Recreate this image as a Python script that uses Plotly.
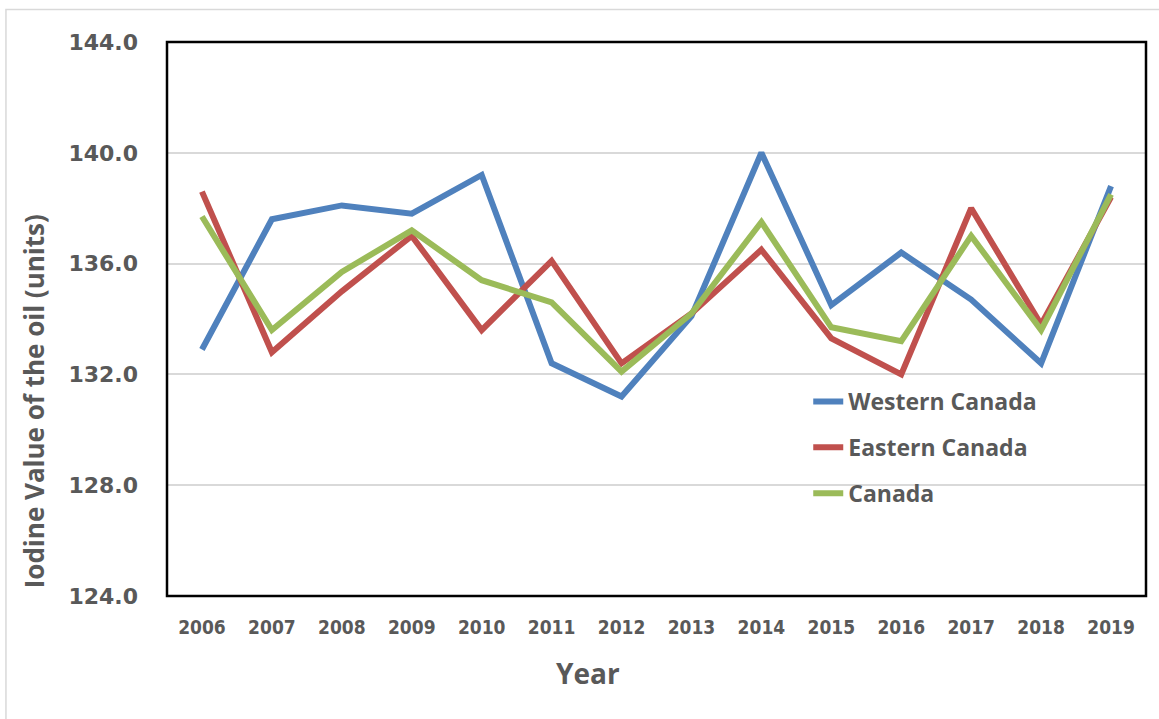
import plotly.graph_objects as go

years = ["2006", "2007", "2008", "2009", "2010", "2011", "2012",
         "2013", "2014", "2015", "2016", "2017", "2018", "2019"]
western = [132.9, 137.6, 138.1, 137.8, 139.2, 132.4, 131.2,
           134.1, 140.0, 134.5, 136.4, 134.7, 132.4, 138.8]
eastern = [138.6, 132.8, 135.0, 137.0, 133.6, 136.1, 132.4,
           134.2, 136.5, 133.3, 132.0, 138.0, 133.8, 138.4]
canada = [137.7, 133.6, 135.7, 137.2, 135.4, 134.6, 132.1,
          134.2, 137.5, 133.7, 133.2, 137.0, 133.6, 138.5]
names = ["Western Canada", "Eastern Canada", "Canada"]
colors = ["#4f81bd", "#c0504d", "#9bbb59"]
y_ticks = [124, 128, 132, 136, 140, 144]

fig = go.Figure()
for i, (nm, vals, col) in enumerate(zip(names, [western, eastern, canada], colors)):
    fig.add_trace(go.Scatter(
        x=years, y=vals, mode="lines", name=nm, legendgroup=f"g{i}",
        line=dict(color=col, width=6),
    ))

gray = "#595959"
fig.update_layout(
    width=1159, height=719,
    margin=dict(l=167, r=13, t=42, b=123, autoexpand=False),
    paper_bgcolor="white", plot_bgcolor="white",
    showlegend=True,
    legend=dict(
        x=0.655, y=0.39, xanchor="left", yanchor="top",
        bgcolor="rgba(0,0,0,0)", tracegroupgap=13,
        font=dict(family="Open Sans, DejaVu Sans", size=23, color=gray, weight="bold"),
    ),
    xaxis=dict(
        type="category", range=[-0.5, len(years) - 0.5],
        showgrid=False, zeroline=False,
        showline=False, automargin=False,
        tickfont=dict(family="DejaVu Sans Condensed, Roboto", size=19, color=gray,
                      weight="bold"),
        ticklabelstandoff=18,
    ),
    yaxis=dict(
        range=[124, 144], tickvals=y_ticks, automargin=False,
        ticktext=[f"{v:.1f}" for v in y_ticks],
        showgrid=True, gridcolor="#d9d9d9", gridwidth=1.5,
        zeroline=False, showline=False,
        tickfont=dict(family="DejaVu Sans", size=22, color=gray, weight="bold"),
        ticklabelstandoff=28,
    ),
    shapes=[
        dict(type="rect", xref="paper", yref="paper", x0=0, x1=1, y0=0, y1=1,
             line=dict(color="black", width=2.5), layer="above"),
        dict(type="rect", xref="paper", yref="paper", x0=-0.1645, x1=1.05,
             y0=-0.3, y1=1.0587, line=dict(color="#d9d9d9", width=1.5)),
    ],
    annotations=[
        dict(text="<b>Iodine Value of the oil (units)</b>", xref="paper", yref="paper",
             x=-0.135, y=0.01, xanchor="center", yanchor="bottom", textangle=-90,
             showarrow=False,
             font=dict(family="Open Sans, DejaVu Sans", size=26, color=gray)),
        dict(text="<b>Year</b>", xref="paper", yref="paper",
             x=0.43, y=-0.101, xanchor="center", yanchor="top", showarrow=False,
             font=dict(family="Open Sans, DejaVu Sans", size=28, color=gray)),
    ],
)

fig.write_html(
    "out.html",
    config={"displayModeBar": False},
    post_script="document.body.style.margin='0';document.body.style.overflow='hidden';",
)
